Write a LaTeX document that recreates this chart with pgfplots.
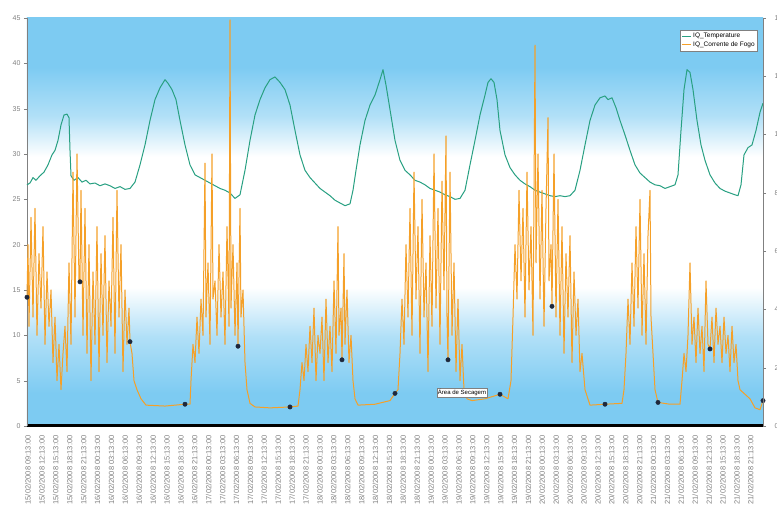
\documentclass[border=0pt]{standalone}
\usepackage{pgfplots}
\pgfplotsset{compat=1.18}
\usepackage{fontspec}
\setmainfont{Liberation Sans}
\usetikzlibrary{shadows}
\definecolor{bgblue}{RGB}{125,203,242}
\definecolor{tempc}{RGB}{40,160,130}
\definecolor{fogoc}{RGB}{245,160,40}
\definecolor{mk}{RGB}{30,40,60}
\definecolor{tickgray}{RGB}{128,128,128}
\pgfdeclareverticalshading{bgshade}{100bp}{color(0bp)=(bgblue); color(25bp)=(bgblue); color(29bp)=(bgblue); color(36bp)=(bgblue!60!white); color(42bp)=(white); color(58bp)=(white); color(63bp)=(bgblue!60!white); color(69bp)=(bgblue); color(75bp)=(bgblue); color(100bp)=(bgblue)}
\newcommand{\dl}[2]{#1/02/2008 #2:13:00}
\begin{document}
\begin{tikzpicture}
\begin{axis}[name=main, scale only axis, width=736pt, height=408pt,
  xmin=27, xmax=763, ymin=0, ymax=45,
  axis x line*=bottom, axis y line*=left,
  x axis line style={black, line width=3pt},
  y axis line style={tickgray},
  axis background/.style={shade, shading=bgshade},
  clip=false,
  /pgf/number format/assume math mode=true,
  tick align=outside, major tick length=3pt,
  tick style={tickgray},
  ytick={0,5,...,45},
  yticklabel style={font=\fontsize{7}{8}\selectfont, text=tickgray},
  xtick={28,41.9,...,752},
  x tick style={draw=none},
  xticklabel shift=3pt,
  xticklabel style={rotate=90, anchor=east, font=\fontsize{7.5}{8}\selectfont, text=tickgray},
  xticklabels={\dl{15}{09},\dl{15}{12},\dl{15}{15},\dl{15}{18},\dl{15}{21},
    \dl{16}{00},\dl{16}{03},\dl{16}{06},\dl{16}{09},\dl{16}{12},\dl{16}{15},\dl{16}{18},\dl{16}{21},
    \dl{17}{00},\dl{17}{03},\dl{17}{06},\dl{17}{09},\dl{17}{12},\dl{17}{15},\dl{17}{18},\dl{17}{21},
    \dl{18}{00},\dl{18}{03},\dl{18}{06},\dl{18}{09},\dl{18}{12},\dl{18}{15},\dl{18}{18},\dl{18}{21},
    \dl{19}{00},\dl{19}{03},\dl{19}{06},\dl{19}{09},\dl{19}{12},\dl{19}{15},\dl{19}{18},\dl{19}{21},
    \dl{20}{00},\dl{20}{03},\dl{20}{06},\dl{20}{09},\dl{20}{12},\dl{20}{15},\dl{20}{18},\dl{20}{21},
    \dl{21}{00},\dl{21}{03},\dl{21}{06},\dl{21}{09},\dl{21}{12},\dl{21}{15},\dl{21}{18},\dl{21}{21}},
  legend style={at={(0.993,0.971)}, anchor=north east, font=\fontsize{6.5}{7.5}\selectfont,
    draw=tickgray, fill=white, inner sep=1pt, row sep=-1.5pt},
  legend cell align=left,
  legend image code/.code={\draw[#1] (0cm,0cm) -- (0.3cm,0cm);},
]
\addplot[tempc, line width=1pt, line join=round] table {
27 26.6
30 26.8
33 27.4
36 27.1
40 27.6
44 28.0
48 28.8
52 29.9
55 30.4
58 31.5
61 33.2
64 34.3
67 34.4
69 34.0
70 30.4
71 27.6
74 27.1
78 27.4
82 26.9
86 27.1
90 26.7
95 26.8
100 26.5
105 26.7
110 26.5
115 26.2
120 26.4
125 26.1
130 26.2
135 26.9
140 28.8
145 31.0
150 33.7
155 36.0
160 37.3
165 38.2
168 37.8
172 37.1
176 36.0
180 33.7
185 31.0
190 28.8
195 27.7
200 27.4
205 27.1
210 26.8
215 26.5
220 26.2
225 26.0
230 25.7
235 25.1
240 25.5
245 28.2
250 31.5
255 34.3
260 36.0
265 37.3
270 38.2
275 38.5
280 37.9
285 37.1
290 35.4
295 32.6
300 29.9
305 28.2
310 27.4
315 26.8
320 26.2
325 25.8
330 25.4
335 24.9
340 24.6
345 24.3
350 24.5
353 26.0
356 28.2
360 31.0
365 33.7
370 35.4
375 36.5
380 38.2
383 39.3
386 37.6
390 34.9
395 31.5
400 29.3
405 28.2
410 27.7
415 27.1
420 26.9
425 26.6
430 26.2
435 26.0
440 25.8
445 25.5
450 25.3
455 25.0
460 25.1
465 26.0
470 28.8
475 31.5
480 34.3
485 36.5
488 37.9
491 38.3
494 37.9
497 36.0
500 32.6
505 29.9
510 28.5
515 27.7
520 27.1
525 26.7
530 26.4
535 26.0
540 25.8
545 25.6
550 25.4
555 25.3
560 25.4
565 25.3
570 25.4
575 26.0
580 28.2
585 31.0
590 33.7
595 35.4
600 36.2
605 36.4
608 36.0
612 36.2
616 35.1
620 33.7
625 32.1
630 30.4
635 28.8
640 27.9
645 27.4
650 26.9
655 26.6
660 26.5
665 26.2
670 26.4
675 26.6
678 27.7
681 32.6
684 37.1
687 39.3
690 39.0
693 37.1
697 33.7
701 31.0
705 29.3
710 27.7
715 26.8
720 26.2
725 25.9
730 25.7
735 25.5
738 25.4
741 26.6
744 29.9
748 30.7
752 31.0
756 32.6
760 34.6
763 35.6
};
\addlegendentry{IQ\_Temperature}
\addplot[fogoc, line width=1pt, line join=round] table {
27 14.2
28 20
29 11
31 23
33 12
35 24
37 10
39 19
41 13
43 22
45 9
47 17
49 11
51 15
53 7
55 12
57 5
59 9
61 4
63 8
65 11
67 6
69 18
71 9
73 28
75 12
77 30
79 16
80 15.9
81 26
83 10
85 24
87 8
89 20
91 5
93 17
95 9
97 22
99 6
101 19
103 10
105 21
107 7
109 16
111 11
113 23
115 8
117 26
119 12
121 20
123 6
125 15
127 9
129 13
130 9.3
132 8
134 5
137 4
141 3
146 2.3
165 2.2
185 2.4
190 2.4
191 5
193 9
195 7
197 12
199 8
201 14
203 10
205 29
206 12
208 18
210 9
212 30
213 14
215 16
217 10
219 20
221 12
223 17
225 9
227 22
229 11
230 44.8
231 13
233 20
235 10
237 18
238 8.8
240 24
241 12
243 15
245 7
247 4
250 2.5
255 2.1
270 2.0
290 2.1
298 2.2
300 4
302 7
304 5
306 9
308 6
310 11
312 7
314 13
316 5
318 10
320 8
322 12
324 5
326 14
328 7
330 11
332 6
334 16
336 8
338 22
339 10
341 13
342 7.3
344 19
345 9
347 15
349 7
351 10
353 5
355 3
358 2.3
375 2.4
390 2.8
395 3.6
398 4
400 8
402 14
404 9
406 20
408 12
410 24
412 10
414 28
416 14
418 22
420 8
422 25
424 12
426 18
428 6
430 21
432 11
434 30
436 13
438 24
440 9
442 27
444 15
446 32
447 12
448 7.3
450 28
452 10
454 18
456 6
458 14
460 5
462 9
464 4
467 3
472 2.8
485 3.0
500 3.5
508 3.0
511 5
513 12
515 20
517 14
519 26
521 16
523 24
525 12
527 28
529 15
531 22
533 10
535 42
536 18
538 30
540 14
542 26
544 11
546 24
548 34
549 16
551 20
552 13.2
554 30
556 12
558 25
560 10
562 22
564 8
566 19
568 12
570 21
572 7
574 17
576 10
578 14
580 6
582 8
585 4
590 2.3
605 2.4
622 2.5
624 4
626 8
628 14
630 9
632 18
634 11
636 22
638 13
640 25
642 10
644 19
646 9
648 21
650 26
651 12
653 8
655 4
658 2.6
670 2.4
680 2.4
682 5
684 8
686 6
688 10
690 18
692 9
694 12
696 7
698 13
700 8
702 11
704 6
706 16
708 9
710 8.5
712 12
714 7
716 13
718 9
720 11
722 7
724 12
726 8
728 10
730 6
732 11
734 7
736 9
738 5
740 4
745 3.5
750 3
755 2
760 1.8
763 2.8
};
\addlegendentry{IQ\_Corrente de Fogo}
\addplot[only marks, mark=*, mark size=2.2pt, mk, forget plot] table {
27 14.2
80 15.9
130 9.3
185 2.4
238 8.8
290 2.1
342 7.3
395 3.6
448 7.3
500 3.5
552 13.2
605 2.4
658 2.6
710 8.5
763 2.8
};
\node[draw=tickgray, fill=white, font=\fontsize{6}{7}\selectfont, inner sep=1.2pt,
  drop shadow={opacity=0.3, shadow xshift=1pt, shadow yshift=-1pt}] at (axis cs:462,3.7) {Área de Secagem};
\end{axis}
\begin{axis}[scale only axis, width=736pt, height=408pt,
  xmin=27, xmax=763, ymin=0, ymax=14,
  axis x line=none, axis y line*=right,
  y axis line style={tickgray},
  /pgf/number format/assume math mode=true,
  tick align=outside, major tick length=3pt,
  tick style={tickgray},
  ytick={0,2,...,14},
  yticklabel shift=5pt,
  yticklabel style={font=\fontsize{7}{8}\selectfont, text=tickgray},
]
\end{axis}
\pgfresetboundingbox
\path[use as bounding box] ([xshift=-27pt,yshift=-90pt]main.south west) rectangle ([xshift=14pt,yshift=18pt]main.north east);
\end{tikzpicture}
\end{document}
